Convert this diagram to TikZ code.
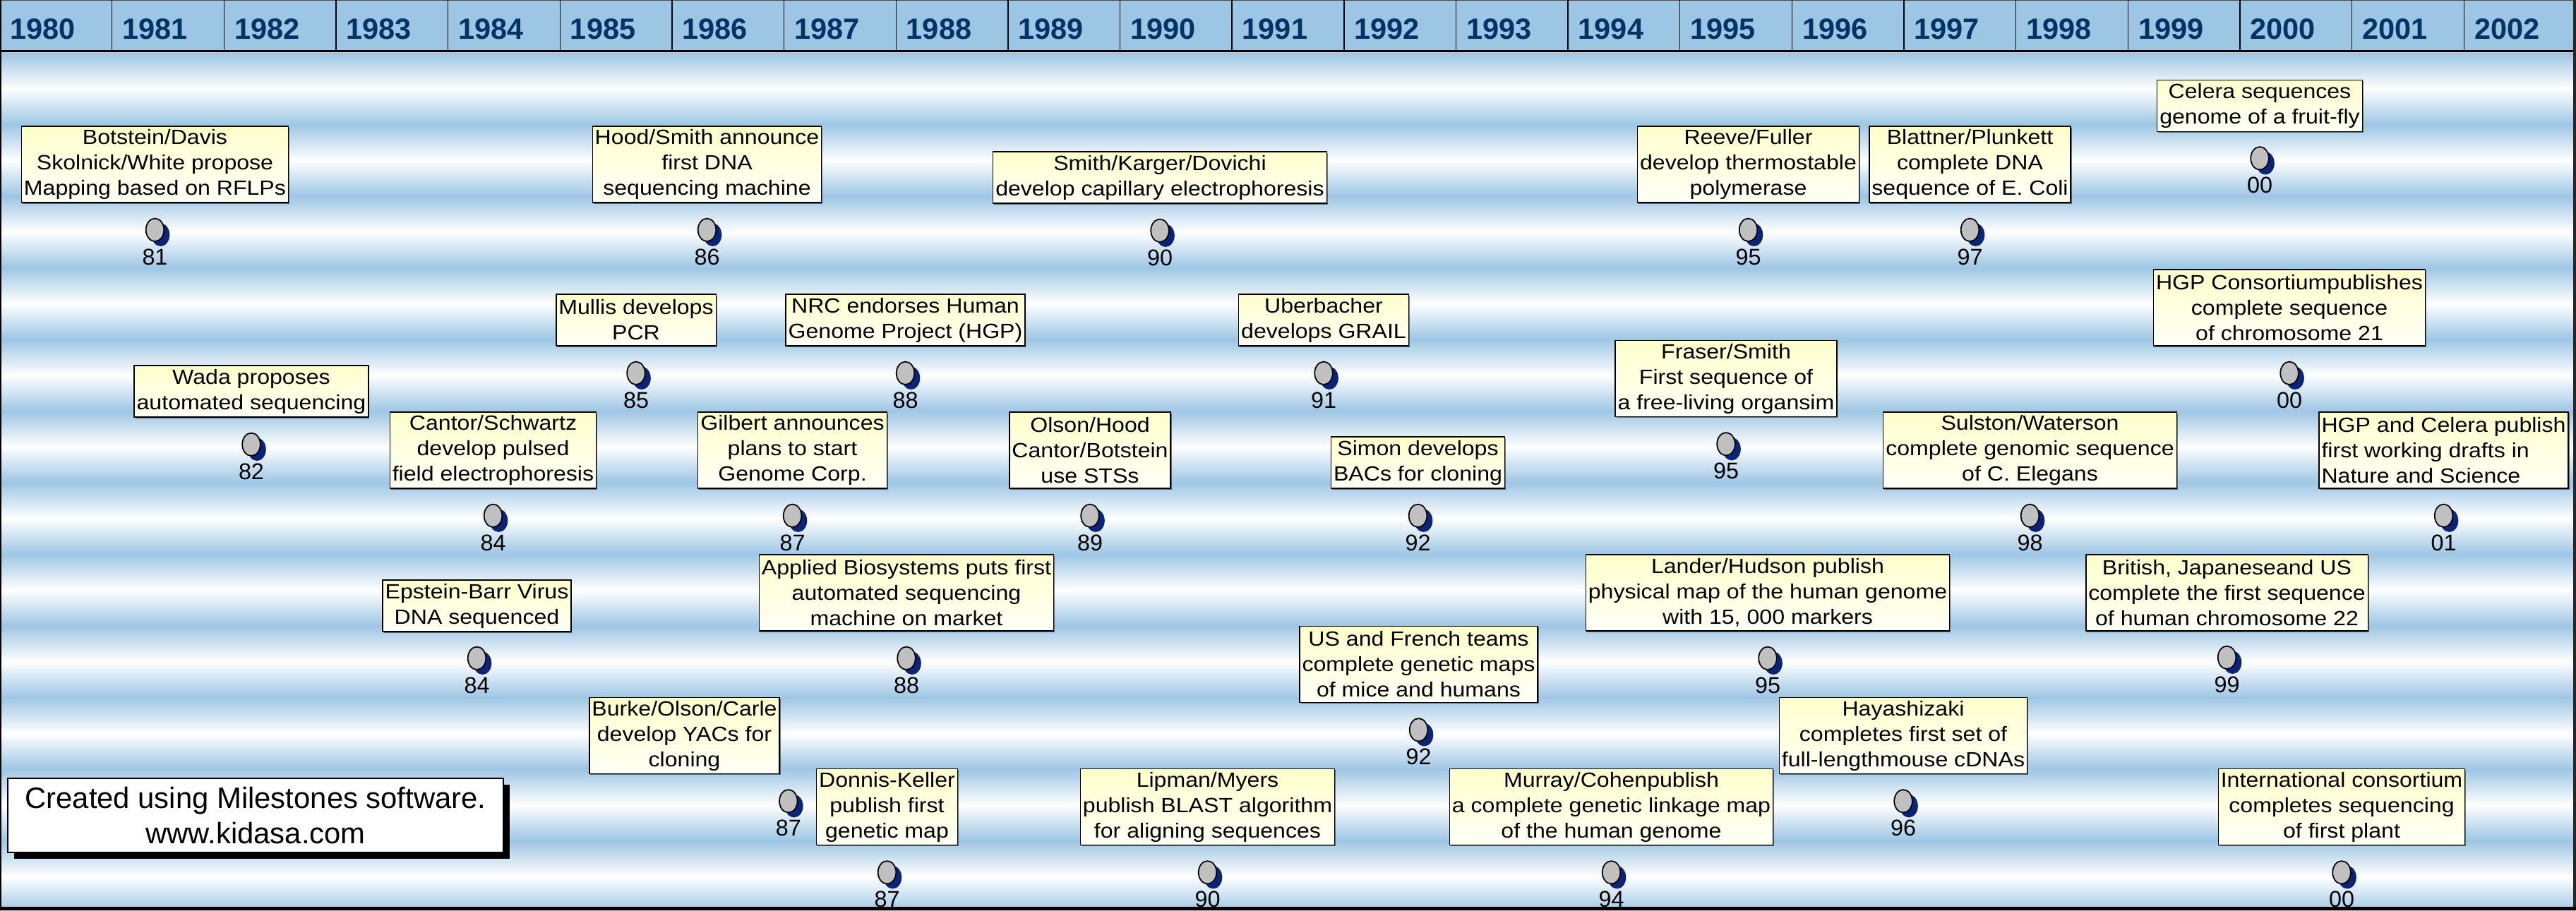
\documentclass[tikz,border=0pt]{standalone}
\usepackage{fontspec}
\setmainfont{Liberation Sans}
\newfontfamily\boxfont[FakeStretch=1.1]{Liberation Sans}
\usetikzlibrary{shapes.geometric, shadows, positioning}

\definecolor{headerblue}{RGB}{157,197,228}
\definecolor{stripeblue}{RGB}{158,198,228}
\definecolor{yearblue}{RGB}{0,51,102}
\definecolor{boxtop}{RGB}{255,255,204}
\definecolor{boxbot}{RGB}{255,255,246}
\definecolor{pingray}{RGB}{192,192,192}
\definecolor{pinshadow}{RGB}{12,36,120}

\tikzstyle{event} = [rectangle, draw=black, line width=0.4pt, top color=boxtop, bottom color=boxbot, inner xsep=1pt, inner ysep=0pt, align=center, font={\boxfont\fontsize{8.3pt}{10.24pt}\selectfont}, drop shadow={opacity=0.5, fill=black, shadow xshift=0.015cm, shadow yshift=-0.015cm}]
\tikzstyle{twoline} = [event, minimum height=0.73cm]
\tikzstyle{threeline} = [event, minimum height=1.08cm]
\tikzstyle{dot} = [ellipse, draw=black, line width=0.5pt, fill=pingray, minimum width=0.256cm, minimum height=0.324cm, inner sep=0pt, drop shadow={opacity=1, fill=pinshadow, shadow xshift=0.08cm, shadow yshift=-0.07cm}]
\tikzstyle{yearlab} = [anchor=west, inner sep=0pt, text=yearblue, font={\bfseries\fontsize{11.8pt}{14pt}\selectfont}]
\tikzstyle{credit} = [rectangle, draw=black, line width=0.4pt, fill=white, minimum width=7.02cm, minimum height=1.05cm, align=center, font={\fontsize{11.9pt}{14.2pt}\selectfont}, drop shadow={opacity=1, fill=black, shadow xshift=0.09cm, shadow yshift=-0.09cm}]

\begin{document}
\begin{tikzpicture}[every label/.style={inner sep=0pt, font=\fontsize{9.2pt}{11pt}\selectfont}, label distance=0.093cm]
            \useasboundingbox (0,0) rectangle (36.49,-12.9);
            % striped background
            \begin{scope}
            \clip (0,0) rectangle (36.49,-12.9);
            \foreach \k in {0,...,11} {
                \shade [top color=stripeblue, bottom color=white] (0,{-0.75-1.015*\k}) rectangle (36.49,{-0.75-1.015*\k-0.5075});
                \shade [top color=white, bottom color=stripeblue] (0,{-0.75-1.015*\k-0.5075}) rectangle (36.49,{-0.75-1.015*(\k+1)});
            }
            \end{scope}
            % year header
            \fill [headerblue] (0,0) rectangle (36.49,-0.72);
            \draw [gray!60!black, line width=0.3pt] (0,-0.005) -- (36.49,-0.005);
            \foreach \k in {1,...,22}
                \draw [line width=0.4pt] (\k*1.5865,0) -- (\k*1.5865,-0.72);
            \foreach \k [evaluate=\k as \yr using int(1980+\k)] in {0,...,22}
                \node [yearlab] at (\k*1.5865+0.14,-0.41) (y\yr) {\yr};
            \fill [black] (0,-0.71) rectangle (36.49,-0.735);
            \fill [gray!25] (0,-0.735) rectangle (36.49,-0.75);

            % top row
            \node [threeline] at (2.195,-2.33) (botstein) {Botstein/Davis\\Skolnick/White propose\\Mapping based on RFLPs};
            \node [dot, below=0.21cm of botstein, label=below:81] (p81) {};
            \node [threeline] at (10.015,-2.33) (hood) {Hood/Smith announce\\first DNA\\sequencing machine};
            \node [dot, below=0.21cm of hood, label=below:86] (p86) {};
            \node [twoline] at (16.43,-2.515) (smith) {Smith/Karger/Dovichi\\develop capillary electrophoresis};
            \node [dot, below=0.21cm of smith, label=below:90] (p90a) {};
            \node [threeline] at (24.765,-2.33) (reeve) {Reeve/Fuller\\develop thermostable\\polymerase};
            \node [dot, below=0.21cm of reeve, label=below:95] (p95a) {};
            \node [threeline] at (27.905,-2.33) (blattner) {Blattner/Plunkett\\complete DNA\\sequence of E. Coli};
            \node [dot, below=0.21cm of blattner, label=below:97] (p97) {};
            \node [twoline] at (32.01,-1.50) (celera) {Celera sequences\\genome of a fruit-fly};
            \node [dot, below=0.2cm of celera, label=below:00] (p00a) {};

            % second row
            \node [twoline] at (9.01,-4.535) (mullis) {Mullis develops\\PCR};
            \node [dot, below=0.21cm of mullis, label=below:85] (p85) {};
            \node [twoline] at (12.825,-4.535) (nrc) {NRC endorses Human\\Genome Project (HGP)};
            \node [dot, below=0.21cm of nrc, label=below:88] (p88a) {};
            \node [twoline] at (18.75,-4.535) (uber) {Uberbacher\\develops GRAIL};
            \node [dot, below=0.21cm of uber, label=below:91] (p91) {};
            \node [threeline] at (32.43,-4.36) (hgpcons) {HGP Consortiumpublishes\\complete sequence\\of chromosome 21};
            \node [dot, below=0.21cm of hgpcons, label=below:00] (p00b) {};
            \node [twoline] at (3.56,-5.545) (wada) {Wada proposes\\automated sequencing};
            \node [dot, below=0.21cm of wada, label=below:82] (p82) {};
            \node [threeline] at (24.45,-5.365) (fraser) {Fraser/Smith\\First sequence of\\a free-living organsim};
            \node [dot, below=0.21cm of fraser, label=below:95] (p95b) {};

            % third row
            \node [threeline] at (6.985,-6.38) (cantor) {Cantor/Schwartz\\develop pulsed\\field electrophoresis};
            \node [dot, below=0.21cm of cantor, label=below:84] (p84a) {};
            \node [threeline] at (11.225,-6.38) (gilbert) {Gilbert announces\\plans to start\\Genome Corp.};
            \node [dot, below=0.21cm of gilbert, label=below:87] (p87a) {};
            \node [threeline] at (15.44,-6.38) (olson) {Olson/Hood\\Cantor/Botstein\\use STSs};
            \node [dot, below=0.21cm of olson, label=below:89] (p89) {};
            \node [twoline] at (20.085,-6.555) (simon) {Simon develops\\BACs for cloning};
            \node [dot, below=0.21cm of simon, label=below:92] (p92a) {};
            \node [threeline] at (28.755,-6.38) (sulston) {Sulston/Waterson\\complete genomic sequence\\of C. Elegans};
            \node [dot, below=0.21cm of sulston, label=below:98] (p98) {};
            \node [threeline, align=left] at (34.615,-6.38) (hgpcel) {HGP and Celera publish\\first working drafts in\\Nature and Science};
            \node [dot, below=0.21cm of hgpcel, label=below:01] (p01) {};

            % fourth row
            \node [twoline] at (6.755,-8.585) (epstein) {Epstein-Barr Virus\\DNA sequenced};
            \node [dot, below=0.2cm of epstein, label=below:84] (p84b) {};
            \node [threeline] at (12.84,-8.40) (applied) {Applied Biosystems puts first\\automated sequencing\\machine on market};
            \node [dot, below=0.21cm of applied, label=below:88] (p88b) {};
            \node [threeline] at (25.04,-8.40) (lander) {Lander/Hudson publish\\physical map of the human genome\\with 15, 000 markers};
            \node [dot, below=0.21cm of lander, label=below:95] (p95c) {};
            \node [threeline] at (31.545,-8.40) (british) {British, Japaneseand US\\complete the first sequence\\of human chromosome 22};
            \node [dot, below=0.2cm of british, label=below:99] (p99) {};
            \node [threeline] at (20.095,-9.415) (usfrench) {US and French teams\\complete genetic maps\\of mice and humans};
            \node [dot, below=0.21cm of usfrench, label=below:92] (p92b) {};

            % bottom rows
            \node [threeline] at (9.695,-10.425) (burke) {Burke/Olson/Carle\\develop YACs for\\cloning};
            \node [dot, xshift=0.12cm, below=0.21cm of burke.south east, label=below:87] (p87b) {};
            \node [threeline] at (26.96,-10.425) (hayashi) {Hayashizaki\\completes first set of\\full-lengthmouse cDNAs};
            \node [dot, below=0.21cm of hayashi, label=below:96] (p96) {};
            \node [threeline] at (12.565,-11.435) (donnis) {Donnis-Keller\\publish first\\genetic map};
            \node [dot, below=0.21cm of donnis, label=below:87] (p87c) {};
            \node [threeline] at (17.105,-11.435) (lipman) {Lipman/Myers\\publish BLAST algorithm\\for aligning sequences};
            \node [dot, below=0.21cm of lipman, label=below:90] (p90b) {};
            \node [threeline] at (22.825,-11.435) (murray) {Murray/Cohenpublish\\a complete genetic linkage map\\of the human genome};
            \node [dot, below=0.21cm of murray, label=below:94] (p94) {};
            \node [threeline] at (33.17,-11.435) (intl) {International consortium\\completes sequencing\\of first plant};
            \node [dot, below=0.21cm of intl, label=below:00] (p00c) {};

            \node [credit] at (3.62,-11.555) (credit) {Created using Milestones software.\\www.kidasa.com};

            % frame
            \fill [black] (0,0) rectangle (0.02,-12.9);
            \fill [black!85] (36.45,0) rectangle (36.49,-12.9);
            \fill [black] (0,-12.85) rectangle (36.49,-12.9);
\end{tikzpicture}
\end{document}
